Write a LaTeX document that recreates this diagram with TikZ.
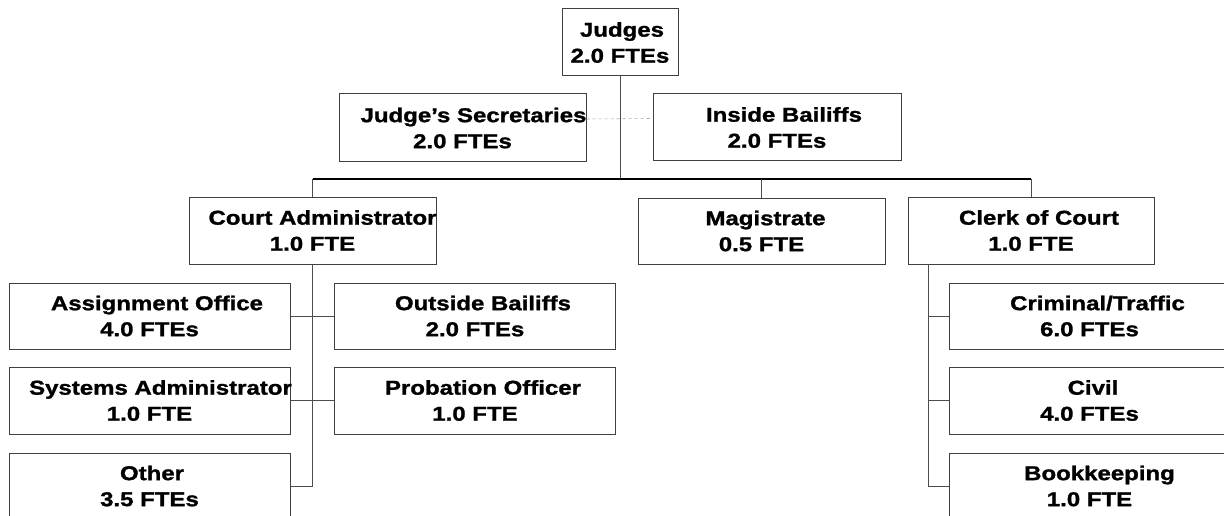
\documentclass[tikz,border=0pt]{standalone}
\usepackage{fontspec}
\newfontfamily\lbl[FakeStretch=1.2,BoldFeatures={FakeBold=1.3}]{Liberation Sans}
\begin{document}
\begin{tikzpicture}[x=1pt,y=-1pt,
  box/.style={draw=black!75,line width=1pt,rectangle,inner sep=0pt,minimum width=#1},
  box/.default=247pt,
  txt/.style={inner sep=0pt,align=center,font=\lbl\bfseries\fontsize{20}{26}\selectfont},
  conn/.style={draw=black!70,line width=1pt},
  bar/.style={draw=black,line width=1.2pt},
  dotline/.style={draw=black!35,line width=0.6pt,dash pattern=on 3pt off 3pt}]
\path[use as bounding box] (0,0) rectangle (1224,516);
\clip (0,0) rectangle (1224,516);
\newcommand{\fl}[2]{\hspace*{#1pt}#2}
% boxes
\node[box=116pt,minimum height=67pt] (judges) at (620,42.5) {};
\node[box=247pt,minimum height=68pt] (js) at (462.5,128) {};
\node[box=248pt,minimum height=67pt] (ib) at (777,127.5) {};
\node[box=247pt,minimum height=67pt] (ca) at (312.5,230.5) {};
\node[box=247pt,minimum height=66pt] (mag) at (761.5,231) {};
\node[box=246pt,minimum height=67pt] (clerk) at (1031,230.5) {};
\node[box=281pt,minimum height=66pt] (ao) at (149.5,316) {};
\node[box=281pt,minimum height=66pt] (ob) at (475,316) {};
\node[box=281pt,minimum height=67pt] (sa) at (149.5,400.5) {};
\node[box=281pt,minimum height=67pt] (po) at (475,400.5) {};
\node[box=281pt,minimum height=66pt] (oth) at (149.5,486) {};
\node[box=281pt,minimum height=66pt] (crim) at (1089.5,316) {};
\node[box=281pt,minimum height=67pt] (civil) at (1089.5,400.5) {};
\node[box=281pt,minimum height=66pt] (book) at (1089.5,486) {};
% texts
\node[txt] (judges-t) at (judges) {\fl{4}{Judges}\\2.0 FTEs};
\node[txt] (js-t) at (js) {\fl{22}{Judge’s Secretaries}\\2.0 FTEs};
\node[txt] (ib-t) at (ib) {\fl{14}{Inside Bailiffs}\\2.0 FTEs};
\node[txt] (ca-t) at (ca) {\fl{20}{Court Administrator}\\1.0 FTE};
\node[txt] (mag-t) at (mag) {\fl{8}{Magistrate}\\0.5 FTE};
\node[txt] (clerk-t) at (clerk) {\fl{16}{Clerk of Court}\\1.0 FTE};
\node[txt] (ao-t) at (ao) {\fl{15}{Assignment Office}\\4.0 FTEs};
\node[txt] (ob-t) at (ob) {\fl{16}{Outside Bailiffs}\\2.0 FTEs};
\node[txt] (sa-t) at (sa) {\fl{22}{Systems Administrator}\\1.0 FTE};
\node[txt] (po-t) at (po) {\fl{16}{Probation Officer}\\1.0 FTE};
\node[txt] (oth-t) at (oth) {\fl{5}{Other}\\3.5 FTEs};
\node[txt] (crim-t) at (crim) {\fl{16}{Criminal/Traffic}\\6.0 FTEs};
\node[txt] (civil-t) at (civil) {\fl{7}{Civil}\\4.0 FTEs};
\node[txt] (book-t) at (book) {\fl{20}{Bookkeeping}\\1.0 FTE};
% connectors
\coordinate (barl) at (0,179);
\coordinate (cl-down) at (928,264);
\draw[conn] (judges.south) -- (judges.south |- barl);
\draw[bar] (ca.north |- barl) -- (clerk.north |- barl);
\draw[conn] (ca.north |- barl) -- (ca.north);
\draw[conn] (mag.north |- barl) -- (mag.north);
\draw[conn] (clerk.north |- barl) -- (clerk.north);
\draw[dotline] ([yshift=9pt]js.east) -- ([yshift=9pt]ib.west);
\draw[conn] (ca.south) -- (ca.south |- oth.east) -- (oth.east);
\draw[conn] (ao.east) -- (ob.west);
\draw[conn] (sa.east) -- (po.west);
\draw[conn] (cl-down) -- (cl-down |- book.west) -- (book.west);
\draw[conn] (cl-down |- crim.west) -- (crim.west);
\draw[conn] (cl-down |- civil.west) -- (civil.west);
\end{tikzpicture}
\end{document}
